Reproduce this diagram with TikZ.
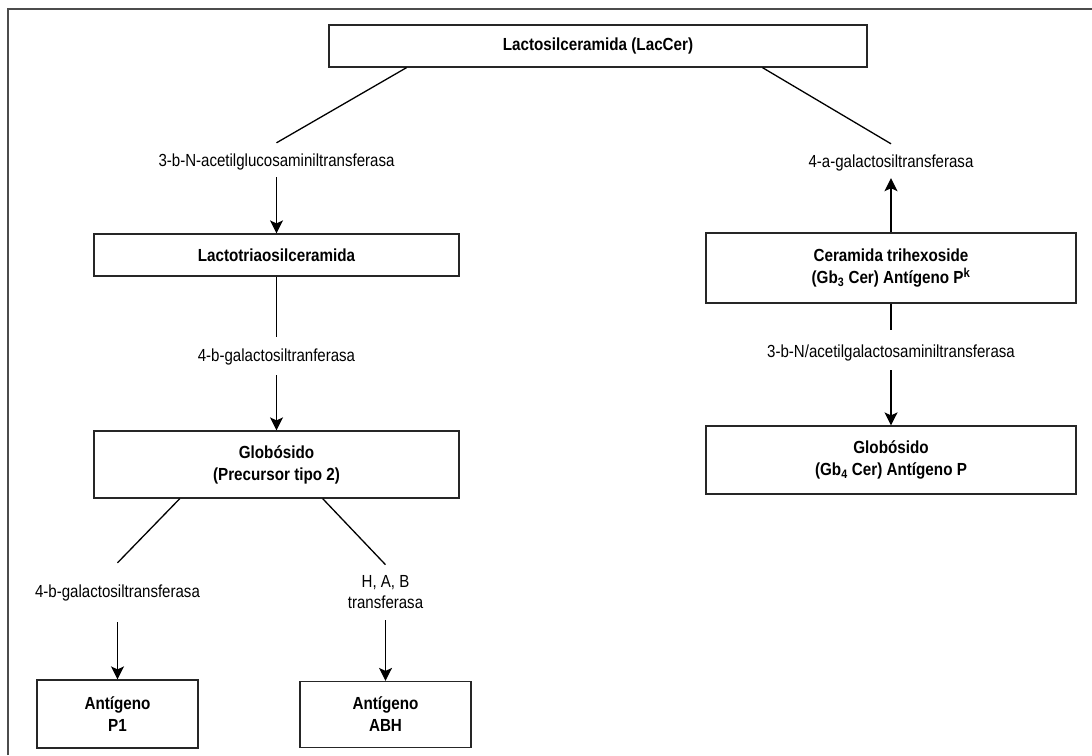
\documentclass[tikz,border=0pt]{standalone}
\usepackage{fontspec}
\setmainfont{Liberation Sans}[FakeStretch=0.86,BoldFeatures={FakeStretch=0.87}]
\usetikzlibrary{arrows.meta,calc}
\begin{document}
\begin{tikzpicture}[x=1pt,y=-1pt,
  box/.style={draw=black!85,line width=1.2pt,fill=white,font=\bfseries\fontsize{17.5}{22}\selectfont,align=center,inner sep=0pt},
  lab/.style={font=\fontsize{17.5}{21}\selectfont,inner sep=0pt,text height=12.5pt,text depth=3.5pt},
  lab2/.style={font=\fontsize{17.5}{21}\selectfont,align=center,inner sep=0pt},
  conn/.style={line width=1.3pt},
  arr/.style={line width=1.3pt,-{Stealth[length=13pt,width=13pt,inset=3pt]}}]
\useasboundingbox (0,0) rectangle (1092,755);
\draw[line width=2pt,black!70] (8,755) -- (8,9) -- (1092,9);
% boxes
\node[box,minimum width=538pt,minimum height=42pt] (top) at (598,46) {Lactosilceramida (LacCer)};
\node[box,minimum width=365pt,minimum height=42pt] (lacto) at (276.5,255) {Lactotriaosilceramida};
\node[box,minimum width=365pt,minimum height=67pt] (globL) at (276.5,464.5) {Globósido\\(Precursor tipo 2)};
\node[box,minimum width=161pt,minimum height=68pt] (p1) at (117.5,714) {Antígeno\\P1};
\node[box,minimum width=171pt,minimum height=66pt] (abh) at (385.5,714.5) {Antígeno\\ABH};
\node[box,minimum width=370pt,minimum height=70pt] (cera) at (891,268) {Ceramida trihexoside\\(Gb\textsubscript{3} Cer) Antígeno P\textsuperscript{\fontsize{13}{13}\selectfont k}};
\node[box,minimum width=370pt,minimum height=68pt] (globR) at (891,460) {Globósido\\(Gb\textsubscript{4} Cer) Antígeno P};
% labels
\node[lab] (l1) at (276.5,162) {3-b-N-acetilglucosaminiltransferasa};
\node[lab] (l2) at (276.5,357) {4-b-galactosiltranferasa};
\node[lab] (l3) at (117.5,593) {4-b-galactosiltransferasa};
\node[lab2] (l4) at (385.5,592.5) {H, A, B\\transferasa};
\node[lab] (r1) at (891,163) {4-a-galactosiltransferasa};
\node[lab] (r2) at (891,353) {3-b-N/acetilgalactosaminiltransferasa};
% connectors
\draw[conn] ($(top.south west)!0.145!(top.south east)$) -- ([yshift=11pt]l1.north);
\draw[arr] ([yshift=-7pt]l1.south) -- (lacto.north);
\draw[conn] (lacto.south) -- ([yshift=12pt]l2.north);
\draw[arr] ([yshift=-10pt]l2.south) -- (globL.north);
\draw[conn] ($(globL.south west)!0.236!(globL.south east)$) -- ([yshift=22pt]l3.north);
\draw[arr] ([yshift=-21pt]l3.south) -- (p1.north);
\draw[conn] ($(globL.south west)!0.626!(globL.south east)$) -- ([yshift=11pt]l4.north);
\draw[arr] ([yshift=-11pt]l4.south) -- (abh.north);
\draw[conn] ($(top.south west)!0.805!(top.south east)$) -- ([yshift=11pt]r1.north);
\draw[arr] (cera.north) -- ([yshift=-7pt]r1.south);
\draw[conn] (cera.south) -- ([yshift=15pt]r2.north);
\draw[arr] ([yshift=-9pt]r2.south) -- (globR.north);
\end{tikzpicture}
\end{document}
